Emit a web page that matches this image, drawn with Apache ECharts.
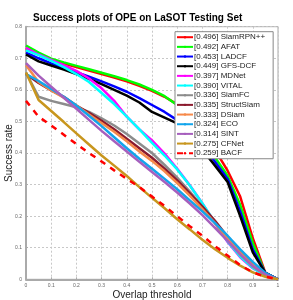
<!DOCTYPE html>
<html><head><meta charset="utf-8">
<script src="https://cdn.jsdelivr.net/npm/echarts@6/dist/echarts.min.js"></script>
<style>html,body{margin:0;padding:0;background:#fff}#c{width:293px;height:300px}</style>
</head><body><div id="c"></div>
<script>
var thresholds = [0,0.05,0.1,0.15,0.2,0.25,0.3,0.35,0.4,0.45,0.5,0.55,0.6,0.65,0.7,0.75,0.8,0.85,0.9,0.95,1.0];
var names = ['[0.496] SiamRPN++','[0.492] AFAT','[0.453] LADCF','[0.449] GFS-DCF','[0.397] MDNet','[0.390] VITAL','[0.336] SiamFC','[0.335] StructSiam','[0.333] DSiam','[0.324] ECO','[0.314] SINT','[0.275] CFNet','[0.259] BACF'];
var siamrpn = [0.732,0.712,0.695,0.683,0.672,0.661,0.650,0.639,0.627,0.613,0.597,0.578,0.554,0.521,0.474,0.410,0.344,0.262,0.130,0.020,0.0];
var afat    = [0.740,0.718,0.699,0.687,0.676,0.665,0.654,0.643,0.631,0.617,0.600,0.580,0.552,0.516,0.462,0.386,0.328,0.235,0.115,0.018,0.0];
var ladcf   = [0.718,0.700,0.684,0.670,0.656,0.642,0.627,0.611,0.594,0.574,0.552,0.530,0.504,0.465,0.425,0.372,0.318,0.215,0.095,0.020,0.0];
var gfsdcf  = [0.712,0.690,0.677,0.664,0.650,0.635,0.618,0.600,0.582,0.560,0.530,0.512,0.494,0.452,0.410,0.360,0.308,0.200,0.085,0.020,0.0];
var mdnet   = [0.733,0.712,0.695,0.678,0.660,0.636,0.605,0.565,0.515,0.475,0.440,0.398,0.350,0.298,0.240,0.178,0.118,0.070,0.035,0.012,0.0];
var vital   = [0.725,0.710,0.692,0.672,0.650,0.625,0.590,0.555,0.515,0.475,0.432,0.392,0.348,0.297,0.240,0.180,0.120,0.072,0.036,0.012,0.0];
var siamfc  = [0.655,0.578,0.565,0.555,0.545,0.530,0.510,0.487,0.460,0.430,0.400,0.362,0.322,0.278,0.230,0.178,0.125,0.078,0.040,0.015,0.0];
var structsiam = [0.650,0.622,0.598,0.578,0.550,0.527,0.502,0.475,0.445,0.415,0.385,0.350,0.313,0.272,0.230,0.185,0.135,0.088,0.045,0.015,0.0];
var dsiam   = [0.678,0.625,0.598,0.575,0.550,0.522,0.495,0.467,0.437,0.405,0.375,0.342,0.305,0.265,0.222,0.178,0.130,0.085,0.045,0.015,0.0];
var eco     = [0.650,0.628,0.603,0.578,0.550,0.518,0.485,0.450,0.415,0.382,0.350,0.318,0.285,0.250,0.215,0.178,0.138,0.095,0.055,0.020,0.0];
var sint    = [0.685,0.645,0.610,0.575,0.540,0.505,0.470,0.437,0.405,0.372,0.340,0.308,0.275,0.240,0.203,0.163,0.122,0.080,0.042,0.015,0.0];
var cfnet   = [0.655,0.568,0.533,0.498,0.462,0.427,0.392,0.360,0.327,0.292,0.258,0.225,0.190,0.158,0.125,0.095,0.068,0.043,0.022,0.008,0.0];
var bacf    = [0.565,0.515,0.487,0.458,0.428,0.400,0.373,0.345,0.318,0.292,0.262,0.232,0.200,0.168,0.138,0.105,0.075,0.045,0.022,0.008,0.0];
var xTicks = [0,0.1,0.2,0.3,0.4,0.5,0.6,0.7,0.8,0.9,1];
var yTicks = [0,0.1,0.2,0.3,0.4,0.5,0.6,0.7,0.8];

var values = [siamrpn,afat,ladcf,gfsdcf,mdnet,vital,siamfc,structsiam,dsiam,eco,sint,cfnet,bacf];
var colors = ['#ff0000','#00ff00','#0000ff','#000000','#ff00ff','#00ffff','#8c8c8c','#8b1a2e','#f6894a','#12a5ec','#a65fbd','#c8961e','#ff0000'];

var series = values.map(function(v,i){
  return {
    name: names[i], type:'line', showSymbol:false, symbol:'none', smooth:false,
    data: thresholds.map(function(t,j){return [t, v[j]];}),
    lineStyle:{color:colors[i], width:2.5, type: i===12 ? [6,6] : 'solid'},
    itemStyle:{color:colors[i]},
    z: 2
  };
});

function fmt(list){
  return function(v){var r=Math.round(v*10)/10; return list.indexOf(r)>=0 ? String(r) : '';};
}

var chart = echarts.init(document.getElementById('c'), null, {renderer:'canvas'});
chart.setOption({
  animation:false,
  backgroundColor:'#fff',
  title:{text:'Success plots of OPE on LaSOT Testing Set', left:33, top:13, padding:0,
    textStyle:{fontFamily:'Liberation Sans', fontWeight:'bold', fontSize:10, color:'#000'}},
  grid:{left:26, right:15, top:26.7, bottom:20.7, outerBoundsMode:'none', containLabel:false,
    show:true, borderColor:'#aaa', borderWidth:1},
  legend:{orient:'vertical', left:175, top:31.7, data:names, z:50,
    backgroundColor:'#fff', borderColor:'#888', borderWidth:1,
    padding:[1,8,1,1], itemWidth:16, itemHeight:3, itemGap:0.67,
    textStyle:{fontFamily:'Liberation Sans', fontSize:8, color:'#222', lineHeight:9, padding:[0,0,0,-4]}},
  xAxis:{type:'value', min:0, max:1, interval:0.1,
    name:'Overlap threshold', nameLocation:'middle', nameGap:11, nameMoveOverlap:false,
    nameTextStyle:{fontFamily:'Liberation Sans', fontSize:10, color:'#222'},
    axisLine:{show:true, lineStyle:{color:'#aaa', width:2}},
    axisTick:{show:true, inside:true, length:2, lineStyle:{color:'#aaa'}},
    axisLabel:{fontSize:5, color:'#666', margin:4, formatter:fmt(xTicks)},
    splitLine:{show:true, lineStyle:{color:'#c8c8c8', type:[2,2], width:1}}},
  yAxis:{type:'value', min:0, max:0.8, interval:0.1,
    name:'Success rate', nameLocation:'middle', nameGap:12, nameMoveOverlap:false,
    nameTextStyle:{fontFamily:'Liberation Sans', fontSize:10, color:'#222'},
    axisLine:{show:true, lineStyle:{color:'#aaa', width:2}},
    axisTick:{show:true, inside:true, length:2, lineStyle:{color:'#aaa'}},
    axisLabel:{fontSize:5, color:'#666', margin:4, formatter:fmt(yTicks)},
    splitLine:{show:true, lineStyle:{color:'#c8c8c8', type:[2,2], width:1}}},
  series: series
});
</script></body></html>
